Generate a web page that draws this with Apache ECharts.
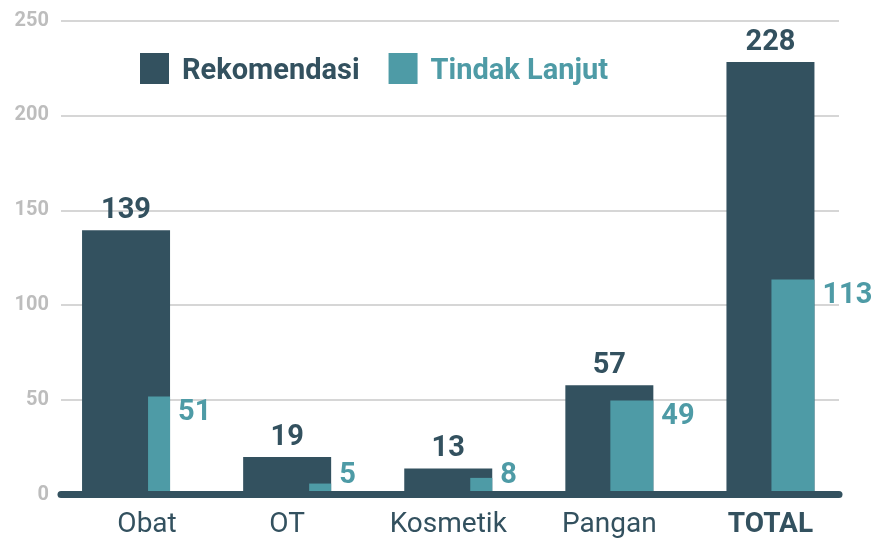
<!DOCTYPE html>
<html><head><meta charset="utf-8">
<script src="https://cdn.jsdelivr.net/npm/echarts@6/dist/echarts.min.js"></script>
<style>html,body{margin:0;padding:0;background:#fff}#c{width:875px;height:539px}</style>
</head><body><div id="c"></div>
<script>
// ---- data ----
const categories = ['Obat', 'OT', 'Kosmetik', 'Pangan', 'TOTAL'];
const rekomendasi = [139, 19, 13, 57, 228];
const tindakLanjut = [51, 5, 8, 49, 113];
const yMin = 0, yMax = 250, yStep = 50;

// ---- styles ----
const DARK = '#33515f', TEAL = '#4e9ba6';
const FONT = 'Roboto';
const darkWidth = 88;
const tealWidths = [22, 22, 22, 43, 43];

const chart = echarts.init(document.getElementById('c'), null, {renderer: 'canvas'});

function darkItem(params, api) {
  const i = api.value(0), v = api.value(1);
  const p = api.coord([i, v]), p0 = api.coord([i, 0]);
  return {type: 'group', children: [
    {type: 'rect', shape: {x: p[0] - darkWidth / 2, y: p[1], width: darkWidth, height: p0[1] - p[1]}, style: {fill: DARK}},
    {type: 'text', x: p[0], y: p[1] - 5, style: {text: String(v), fill: DARK, fontFamily: FONT, fontWeight: 'bold', fontSize: 29, align: 'center', verticalAlign: 'bottom'}}
  ]};
}
function tealItem(params, api) {
  const i = api.value(0), v = api.value(1);
  const p = api.coord([i, v]), p0 = api.coord([i, 0]);
  const right = p[0] + darkWidth / 2, w = tealWidths[i];
  return {type: 'group', children: [
    {type: 'rect', shape: {x: right - w, y: p[1], width: w, height: p0[1] - p[1]}, style: {fill: TEAL}},
    {type: 'text', x: right + 8, y: Math.min(p[1] + 2, p0[1] - 32), style: {text: String(v), fill: TEAL, fontFamily: FONT, fontWeight: 'bold', fontSize: 29, align: 'left', verticalAlign: 'top'}}
  ]};
}

const option = {
  animation: false,
  backgroundColor: '#fff',
  textStyle: {fontFamily: FONT},
  legend: {
    left: 140, top: 53, padding: 0, itemWidth: 29, itemHeight: 31, itemGap: 29, icon: 'rect',
    data: ['Rekomendasi', 'Tindak Lanjut'],
    formatter: function (name) { return (name === 'Rekomendasi' ? '{r|' : '{t|') + name + '}'; },
    textStyle: {
      fontFamily: FONT, fontWeight: 'bold', fontSize: 29,
      rich: {
        r: {color: DARK, fontFamily: FONT, fontWeight: 'bold', fontSize: 29, padding: [7, 0, 0, 8]},
        t: {color: TEAL, fontFamily: FONT, fontWeight: 'bold', fontSize: 29, padding: [7, 0, 0, 8]}
      }
    }
  },
  grid: [
    {left: 61, right: 36, top: 20.5, bottom: 44},
    {left: 45.5, right: 24, top: 20.5, bottom: 44}
  ],
  xAxis: [
    {gridIndex: 0, type: 'value', min: 0, max: 1, offset: -1, z: 10,
     axisLine: {show: true, onZero: false, lineStyle: {color: DARK, width: 7}},
     axisTick: {show: false}, axisLabel: {show: false}, splitLine: {show: false}},
    {gridIndex: 1, type: 'category', data: categories,
     axisLine: {show: false}, axisTick: {show: false},
     axisLabel: {
       interval: 0, hideOverlap: false,
       margin: 18, color: DARK, fontFamily: FONT, fontSize: 28,
       formatter: function (v, idx) { return idx === 0 ? '{o|' + v + '}' : (v === 'TOTAL' ? '{b|' + v + '}' : v); },
       rich: {
         o: {padding: [0, 0, 0, 42], color: DARK, fontFamily: FONT, fontSize: 28},
         b: {fontWeight: 'bold', color: DARK, fontFamily: FONT, fontSize: 28}
       }
     }}
  ],
  yAxis: [
    {gridIndex: 0, type: 'value', min: yMin, max: yMax, interval: yStep,
     axisLine: {show: false}, axisTick: {show: false},
     axisLabel: {color: '#bdbdbd', fontWeight: 'bold', fontSize: 20, fontFamily: FONT, margin: 12},
     splitLine: {lineStyle: {color: '#c8c8c8', width: 1.5}}},
    {gridIndex: 1, type: 'value', min: yMin, max: yMax, interval: yStep, show: false, splitLine: {show: false}}
  ],
  series: [
    {name: 'Rekomendasi', type: 'custom', xAxisIndex: 1, yAxisIndex: 1, itemStyle: {color: DARK},
     renderItem: darkItem, encode: {x: 0, y: 1}, data: rekomendasi.map((v, i) => [i, v])},
    {name: 'Tindak Lanjut', type: 'custom', xAxisIndex: 1, yAxisIndex: 1, itemStyle: {color: TEAL},
     renderItem: tealItem, encode: {x: 0, y: 1}, data: tindakLanjut.map((v, i) => [i, v])}
  ]
};
chart.setOption(option);
</script></body></html>
